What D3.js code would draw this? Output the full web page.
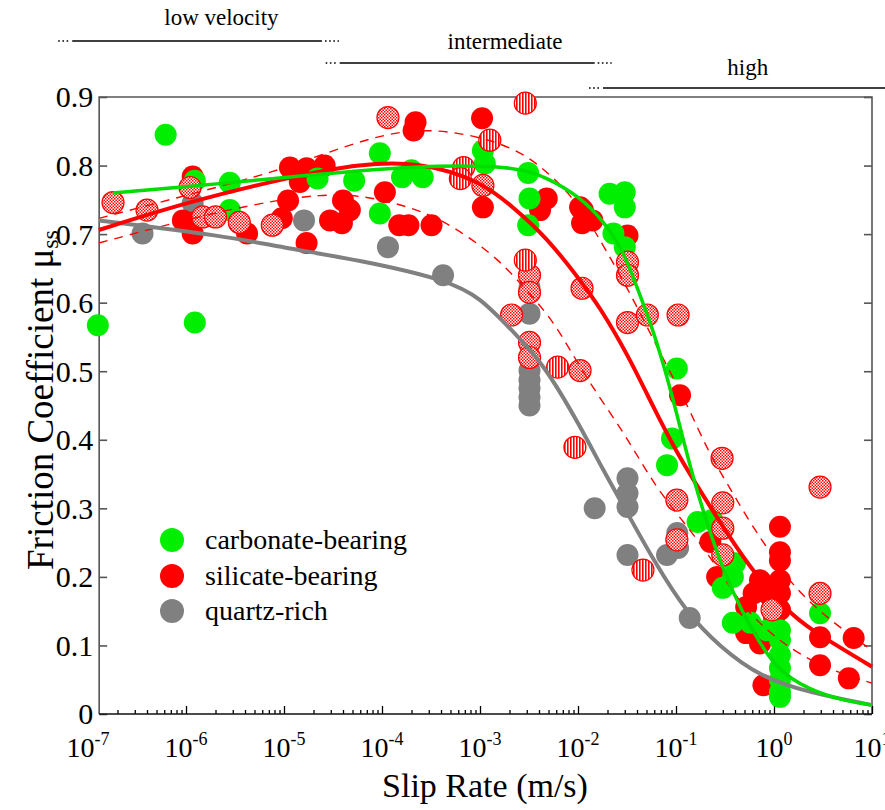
<!DOCTYPE html>
<html>
<head>
<meta charset="utf-8">
<script src="https://cdn.jsdelivr.net/npm/d3@7"></script>
<style>
    body { margin: 0; background: #fff; }
    svg, svg text { font-family: "Liberation Serif", "Times New Roman", serif; }
</style>
</head>
<body>
<div id="chart"></div>
<script>

// ---- data: [slip rate (m/s), friction coefficient] ----
const carbonatePoints = [
    [1.26e-7, 0.567], [6.2e-7, 0.845], [1.23e-6, 0.571], [1.23e-6, 0.778], [2.8e-6, 0.775], [2.8e-6, 0.735],
    [2.2e-5, 0.781], [5.2e-5, 0.778], [9.5e-5, 0.818], [9.5e-5, 0.730], [1.6e-4, 0.783], [2.0e-4, 0.793], [2.6e-4, 0.783],
    [1.07e-3, 0.822], [1.12e-3, 0.803], [3.1e-3, 0.789], [3.2e-3, 0.752], [3.1e-3, 0.713],
    [2.1e-2, 0.759], [3.0e-2, 0.761], [3.0e-2, 0.739], [2.3e-2, 0.701], [3.0e-2, 0.681],
    [0.102, 0.504], [0.091, 0.402], [0.081, 0.363], [0.166, 0.280], [0.234, 0.283],
    [0.40, 0.220], [0.38, 0.200], [0.30, 0.184], [0.38, 0.133], [0.575, 0.133], [0.85, 0.122], [1.15, 0.122],
    [1.15, 0.108], [1.15, 0.086], [1.15, 0.067], [1.15, 0.050], [1.15, 0.032], [1.15, 0.025], [2.95, 0.147]
];

const silicatePoints = [
    [1.17e-6, 0.784], [1.17e-6, 0.776], [9.3e-7, 0.720], [1.17e-6, 0.717], [1.17e-6, 0.701], [4.2e-6, 0.701],
    [1.15e-5, 0.797], [1.7e-5, 0.796], [2.6e-5, 0.800], [1.45e-5, 0.776], [1.1e-5, 0.749], [9.5e-6, 0.723], [1.7e-5, 0.687],
    [2.95e-5, 0.720], [3.9e-5, 0.716], [4.0e-5, 0.749], [4.7e-5, 0.735],
    [1.07e-4, 0.761], [2.2e-4, 0.863], [2.1e-4, 0.851], [1.5e-4, 0.713], [1.86e-4, 0.713], [3.2e-4, 0.713],
    [1.05e-3, 0.869], [1.07e-3, 0.739], [4.8e-3, 0.752], [4.1e-3, 0.735],
    [1.12e-2, 0.735], [1.05e-2, 0.739], [1.1e-2, 0.716], [1.4e-2, 0.720], [3.2e-2, 0.698],
    [0.11, 0.465], [0.224, 0.251], [0.263, 0.200],
    [1.15, 0.273], [1.15, 0.236], [1.15, 0.224], [1.15, 0.195], [1.15, 0.176], [1.15, 0.152],
    [0.72, 0.195], [0.62, 0.176], [0.52, 0.156], [0.52, 0.118], [0.72, 0.103], [0.85, 0.176], [1.0, 0.141],
    [0.78, 0.042], [2.95, 0.112], [2.95, 0.071], [6.5, 0.111], [5.8, 0.052]
];

const quartzPoints = [
    [3.6e-7, 0.701], [1.17e-6, 0.745], [1.6e-5, 0.720], [1.15e-4, 0.681], [4.2e-4, 0.640],
    [3.2e-3, 0.622], [3.2e-3, 0.584], [3.2e-3, 0.501], [3.2e-3, 0.487], [3.2e-3, 0.475], [3.2e-3, 0.462], [3.2e-3, 0.450],
    [1.48e-2, 0.300], [3.2e-2, 0.344], [3.2e-2, 0.322], [3.2e-2, 0.302], [3.2e-2, 0.232],
    [8.1e-2, 0.232], [0.105, 0.242], [0.103, 0.264], [0.138, 0.140]
];

// silicate-bearing runs drawn with a checker fill
const silicateDottedPoints = [
    [1.8e-7, 0.746], [4.0e-7, 0.735], [1.1e-6, 0.768], [1.48e-6, 0.725], [2.0e-6, 0.725], [3.5e-6, 0.717], [7.6e-6, 0.713],
    [1.15e-4, 0.870], [1.07e-3, 0.771], [3.2e-3, 0.640], [3.2e-3, 0.615], [2.1e-3, 0.582], [3.2e-3, 0.542], [3.2e-3, 0.520],
    [1.05e-2, 0.501], [3.2e-2, 0.659], [3.2e-2, 0.640], [1.1e-2, 0.621], [3.2e-2, 0.571], [5.1e-2, 0.582], [0.105, 0.582],
    [0.295, 0.373], [0.102, 0.312], [0.30, 0.308], [0.30, 0.271], [0.102, 0.254], [0.30, 0.232], [0.955, 0.152],
    [2.95, 0.331], [2.95, 0.176]
];

// silicate-bearing runs drawn with vertical stripes
const silicateStripedPoints = [
    [2.9e-3, 0.891], [1.26e-3, 0.837], [6.8e-4, 0.797], [6.3e-4, 0.781], [2.9e-3, 0.662],
    [6.2e-3, 0.506], [9.3e-3, 0.389], [4.6e-2, 0.210]
];

// fitted curves (traced)
const carbonateFit = [
    [1.8e-7, 0.760], [2.9e-6, 0.775], [1.23e-5, 0.784], [2.1e-4, 0.800], [2.2e-3, 0.800], [4.8e-3, 0.783],
    [1.05e-2, 0.754], [1.8e-2, 0.720], [2.9e-2, 0.676], [4.0e-2, 0.622], [5.4e-2, 0.574], [7.4e-2, 0.512],
    [0.10, 0.443], [0.148, 0.345], [0.24, 0.249], [0.38, 0.176], [0.62, 0.118], [1.07, 0.064], [2.3, 0.035],
    [5.0, 0.020], [10, 0.013]
];
const silicateFit = [
    [1.29e-7, 0.706], [1.17e-6, 0.749], [1.23e-5, 0.784], [6.0e-5, 0.803], [2.5e-4, 0.805], [1.0e-3, 0.778],
    [2.2e-3, 0.739], [4.8e-3, 0.695], [1.05e-2, 0.633], [1.66e-2, 0.594], [3.2e-2, 0.525], [5.9e-2, 0.447],
    [0.10, 0.383], [0.174, 0.327], [0.33, 0.264], [0.62, 0.206], [1.55, 0.141], [3.5, 0.108], [10, 0.069]
];
const silicateUpper = [
    [1.29e-7, 0.723], [2.6e-6, 0.772], [1.0e-5, 0.795], [6.0e-5, 0.837], [2.1e-4, 0.854], [6.8e-4, 0.848],
    [2.2e-3, 0.827], [4.8e-3, 0.793], [1.0e-2, 0.745], [1.55e-2, 0.700], [3.2e-2, 0.622], [6.9e-2, 0.526],
    [0.129, 0.453], [0.209, 0.385], [0.33, 0.337], [0.575, 0.278], [0.85, 0.243], [1.55, 0.185], [4.0, 0.133], [10, 0.093]
];
const silicateLower = [
    [1.29e-7, 0.687], [2.6e-6, 0.737], [2.75e-5, 0.762], [9.5e-5, 0.752], [3.1e-4, 0.730], [6.8e-4, 0.701],
    [1.48e-3, 0.666], [3.2e-3, 0.614], [5.5e-3, 0.574], [8.3e-3, 0.531], [1.4e-2, 0.477], [2.7e-2, 0.418],
    [4.3e-2, 0.370], [6.9e-2, 0.322], [0.148, 0.264], [0.263, 0.214], [0.48, 0.156], [1.07, 0.108], [2.95, 0.069], [10, 0.045]
];
const quartzFit = [
    [1.29e-7, 0.720], [2.6e-6, 0.697], [9.1e-6, 0.681], [6.0e-5, 0.662], [4.6e-4, 0.633], [1.0e-3, 0.608],
    [2.2e-3, 0.557], [4.5e-3, 0.510], [1.05e-2, 0.420], [1.8e-2, 0.356], [3.2e-2, 0.293], [5.9e-2, 0.224],
    [0.129, 0.147], [0.28, 0.098], [0.72, 0.054], [2.3, 0.031], [10, 0.013]
];

// axes
const xDecades = [-7, -6, -5, -4, -3, -2, -1, 0, 1];
const yTicks = [0, 0.1, 0.2, 0.3, 0.4, 0.5, 0.6, 0.7, 0.8, 0.9];
const yTickLabels = ["0", "0.1", "0.2", "0.3", "0.4", "0.5", "0.6", "0.7", "0.8", "0.9"];

// velocity regimes above the plot
const regimeLabels = ["low velocity", "intermediate", "high"];
const regimeFrom = [6.9e-8, 3.7e-5, 1.8e-2];
const regimeTo = [2.44e-5, 1.48e-2, 13.6];
const regimeLabelAt = [2.3e-6, 1.8e-3, 0.54];

const legendLabels = ["carbonate-bearing", "silicate-bearing", "quartz-rich"];
const legendColors = ["#00ee00", "#ff0000", "#808080"];

const FONT = "'Liberation Serif', 'Times New Roman', serif";


class FrictionVis {

    constructor(parentElement){
        this.parentElement = parentElement;
        this.initVis();
    }

    initVis(){
        let vis = this;

        vis.width = 885;
        vis.height = 810;

        vis.svg = d3.select("#" + vis.parentElement).append("svg")
            .attr("width", vis.width)
            .attr("height", vis.height)
            .attr("font-family", FONT);

        // scales - the frame starts a little right of 10^-7
        vis.x = d3.scaleLog().domain([1e-7, 10]).range([88, 872]);
        vis.y = d3.scaleLinear().domain([0, 0.9]).range([714, 97]);
        vis.frameLeft = vis.x(1.3e-7);
        vis.frameRight = vis.x(10);

        // fill patterns
        let defs = vis.svg.append("defs");
        let checker = defs.append("pattern").attr("id", "checker")
            .attr("patternUnits", "userSpaceOnUse").attr("width", 3).attr("height", 3);
        checker.append("rect").attr("width", 3).attr("height", 3).attr("fill", "#fff");
        checker.append("rect").attr("width", 1.5).attr("height", 1.5).attr("fill", "#ff0000");
        checker.append("rect").attr("x", 1.5).attr("y", 1.5).attr("width", 1.5).attr("height", 1.5).attr("fill", "#ff0000");

        let stripes = defs.append("pattern").attr("id", "stripes")
            .attr("patternUnits", "userSpaceOnUse").attr("width", 3).attr("height", 3);
        stripes.append("rect").attr("width", 3).attr("height", 3).attr("fill", "#fff");
        stripes.append("rect").attr("width", 1.6).attr("height", 3).attr("fill", "#ff0000");

        vis.drawFrame();
        vis.drawRegimes();
        vis.updateVis();
        vis.drawLegend();
    }

    drawFrame(){
        let vis = this;
        let top = vis.y(0.9), bottom = vis.y(0);

        // gray frame on left/top/right
        vis.svg.append("path")
            .attr("d", `M${vis.frameLeft},${bottom} V${top} H${vis.frameRight} V${bottom}`)
            .attr("fill", "none")
            .attr("stroke", "#555")
            .attr("stroke-width", 1.6);

        // left axis, ticks point inward
        let yAxis = d3.axisLeft(vis.y)
            .tickValues(yTicks)
            .tickSize(-8)
            .tickPadding(6)
            .tickFormat((d, i) => yTickLabels[i]);

        let gy = vis.svg.append("g")
            .attr("transform", `translate(${vis.frameLeft},0)`)
            .call(yAxis)
            .attr("font-family", FONT)
            .attr("font-size", 30);
        gy.select(".domain").remove();
        gy.selectAll("line").attr("stroke", "#555").attr("stroke-width", 1.6);
        gy.selectAll("text").attr("fill", "#000").attr("dy", "0.33em");

        // right axis
        let gr = vis.svg.append("g")
            .attr("transform", `translate(${vis.frameRight},0)`)
            .call(d3.axisRight(vis.y).tickValues(yTicks).tickSize(-8).tickFormat(""));
        gr.select(".domain").remove();
        gr.selectAll("line").attr("stroke", "#555").attr("stroke-width", 1.6);

        // bottom axis: majors at decades, minors at 2..9
        let allTicks = vis.x.ticks().filter(d => d >= 1.3e-7);
        let majors = allTicks.filter(d => Math.abs(Math.log10(d) - Math.round(Math.log10(d))) < 1e-6);
        let minors = allTicks.filter(d => majors.indexOf(d) < 0);

        let gMinor = vis.svg.append("g")
            .attr("transform", `translate(0,${bottom})`)
            .call(d3.axisBottom(vis.x).tickValues(minors).tickSize(-4).tickFormat(""));
        let gMajor = vis.svg.append("g")
            .attr("transform", `translate(0,${bottom})`)
            .call(d3.axisBottom(vis.x).tickValues(majors).tickSize(-8).tickFormat(""));
        [gMinor, gMajor].forEach(g => {
            g.select(".domain").remove();
            g.selectAll("line").attr("stroke", "#000").attr("stroke-width", 1.3);
        });

        vis.svg.append("line")
            .attr("x1", vis.frameLeft).attr("x2", vis.frameRight)
            .attr("y1", bottom).attr("y2", bottom)
            .attr("stroke", "#111")
            .attr("stroke-width", 1.6);

        // decade labels with superscripts
        let labels = vis.svg.append("g").selectAll("text")
            .data(xDecades)
            .enter()
            .append("text")
            .attr("x", d => vis.x(Math.pow(10, d)))
            .attr("y", 757)
            .attr("text-anchor", "middle")
            .attr("font-family", FONT)
            .attr("font-size", 28);
        labels.append("tspan").text("10");
        labels.append("tspan")
            .attr("font-size", 18)
            .attr("dy", -12)
            .text(d => d);

        // axis titles
        vis.svg.append("text")
            .attr("x", 485)
            .attr("y", 797)
            .attr("text-anchor", "middle")
            .attr("font-family", FONT)
            .attr("font-size", 34)
            .text("Slip Rate (m/s)");

        let yTitle = vis.svg.append("text")
            .attr("transform", "translate(53,400) rotate(-90)")
            .attr("text-anchor", "middle")
            .attr("font-family", FONT)
            .attr("font-size", 37);
        yTitle.append("tspan").text("Friction Coefficient μ");
        yTitle.append("tspan").attr("font-size", 24).attr("dy", 5).text("ss");
    }

    drawRegimes(){
        let vis = this;
        let lineY = [41, 63, 88];
        let textY = [25, 49, 75];

        regimeLabels.forEach((label, i) => {
            let x0 = vis.x(regimeFrom[i]);
            let x1 = vis.x(regimeTo[i]);
            let g = vis.svg.append("g");

            g.append("line")
                .attr("x1", x0).attr("x2", x1)
                .attr("y1", lineY[i]).attr("y2", lineY[i])
                .attr("stroke", "#000").attr("stroke-width", 1.5);

            // the little dotted lead-ins on either side
            [[x0 - 14, x0 - 2], [x1 + 3, x1 + 17]].forEach(seg => {
                g.append("line")
                    .attr("x1", seg[0]).attr("x2", seg[1])
                    .attr("y1", lineY[i]).attr("y2", lineY[i])
                    .attr("stroke", "#000").attr("stroke-width", 1.6)
                    .attr("stroke-dasharray", "1.6,2.6");
            });

            g.append("text")
                .attr("x", vis.x(regimeLabelAt[i]))
                .attr("y", textY[i])
                .attr("text-anchor", "middle")
                .attr("font-family", FONT)
                .attr("font-size", 23)
                .text(label);
        });
    }

    updateVis(){
        let vis = this;
        let r = 11;

        let drawPoints = function(data, fill, stroke){
            vis.svg.append("g").selectAll("circle")
                .data(data)
                .enter()
                .append("circle")
                .attr("cx", d => vis.x(d[0]))
                .attr("cy", d => vis.y(d[1]))
                .attr("r", r)
                .attr("fill", fill)
                .attr("stroke", stroke)
                .attr("stroke-width", stroke === "none" ? 0 : 1.2);
        };

        drawPoints(quartzPoints, "#808080", "none");
        drawPoints(silicatePoints, "#ff0000", "none");
        drawPoints(carbonatePoints, "#00ee00", "none");
        drawPoints(silicateDottedPoints, "url(#checker)", "#ff0000");
        drawPoints(silicateStripedPoints, "url(#stripes)", "#ff0000");

        // fitted curves on top
        let line = d3.line()
            .x(d => vis.x(d[0]))
            .y(d => vis.y(d[1]))
            .curve(d3.curveBasis);

        let curves = [
            {data: silicateUpper, color: "#ff0000", width: 1.4, dash: "9,7"},
            {data: silicateLower, color: "#ff0000", width: 1.4, dash: "9,7"},
            {data: quartzFit, color: "#808080", width: 4, dash: null},
            {data: silicateFit, color: "#ff0000", width: 4, dash: null},
            {data: carbonateFit, color: "#00dd00", width: 3.5, dash: null}
        ];

        vis.svg.append("g").selectAll("path")
            .data(curves)
            .enter()
            .append("path")
            .attr("d", d => line(d.data))
            .attr("fill", "none")
            .attr("stroke", d => d.color)
            .attr("stroke-width", d => d.width)
            .attr("stroke-dasharray", d => d.dash);
    }

    drawLegend(){
        let vis = this;
        let rows = [540, 576, 611];

        let items = vis.svg.append("g").selectAll("g")
            .data(legendLabels)
            .enter()
            .append("g")
            .attr("transform", (d, i) => `translate(172,${rows[i]})`);

        items.append("circle")
            .attr("r", 12)
            .attr("fill", (d, i) => legendColors[i]);

        items.append("text")
            .attr("x", 33)
            .attr("y", 9)
            .attr("font-family", FONT)
            .attr("font-size", 28)
            .text(d => d);
    }
}

let frictionVis = new FrictionVis("chart");

</script>
</body>
</html>
